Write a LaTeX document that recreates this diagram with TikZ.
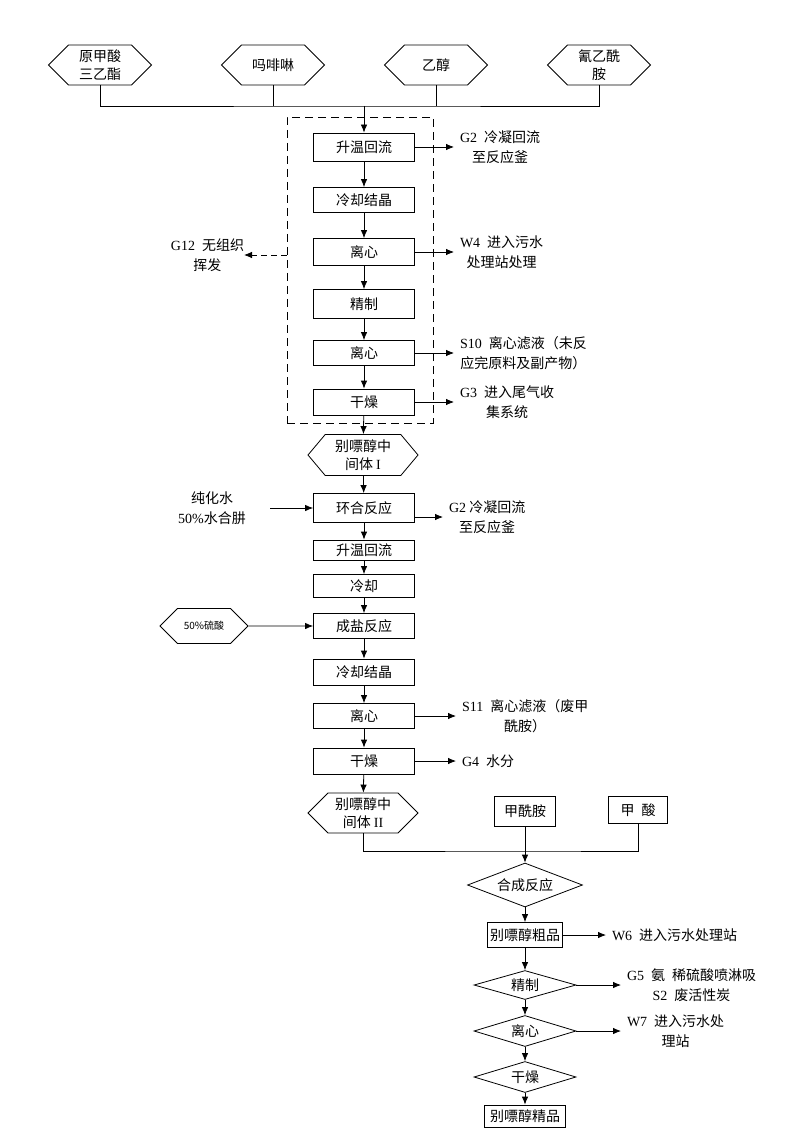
\documentclass[tikz,border=0pt]{standalone}
\usepackage{fontspec}
\setmainfont{Noto Sans CJK SC}
\newfontfamily\romfont{Liberation Serif}
\usetikzlibrary{shapes.geometric,shapes.symbols,arrows.meta}

\begin{document}
\begin{tikzpicture}
        [x=1pt,y=-1pt,line width=0.8pt,>={Latex[length=8pt,width=6.5pt]},
         every node/.style={font=\fontsize{14}{20}\selectfont,inner sep=0},
         box/.style={draw,rectangle,minimum width=101pt,minimum height=27pt},
         hexa/.style={draw,signal,signal to=east and west,signal pointer angle=90,align=center,
                      minimum width=103pt,minimum height=40pt,font=\fontsize{14}{18}\selectfont},
         dia/.style={draw,diamond,aspect=3,minimum width=102pt,minimum height=31pt},
         note/.style={align=center,anchor=west,outer sep=6pt}]

        \useasboundingbox (0,0) rectangle (800,1131);

        \node[hexa] (h1) at (100,65) {原甲酸\\三乙酯};
        \node[hexa] (h2) at (273,65) {吗啡啉};
        \node[hexa] (h3) at (436,65) {乙醇};
        \node[hexa] (h4) at (599,65) {氰乙酰\\胺};
        \coordinate (j1) at (364,106);

        \node[draw,dashed,dash pattern=on 8pt off 5pt,minimum width=146pt,minimum height=306pt] (frame) at (360,270) {};
        \node[box,minimum height=28pt] (a1) at (364,147) {升温回流};
        \node[box,minimum height=25pt] (a2) at (364,200) {冷却结晶};
        \node[box] (a3) at (364,252) {离心};
        \node[box,minimum height=29pt] (a4) at (364,304) {精制};
        \node[box,minimum height=25pt] (a5) at (364,353) {离心};
        \node[box,minimum height=26pt] (a6) at (364,402) {干燥};
        \node[note] (o1) at (454,147) {{\romfont G2}\enspace 冷凝回流\\至反应釜};
        \node[note] (o2) at (454,252) {{\romfont W4}\enspace 进入污水\\处理站处理};
        \node[note] (o3) at (454,353) {{\romfont S10}\enspace 离心滤液（未反\\应完原料及副产物）};
        \node[note] (o4) at (454,402) {{\romfont G3}\enspace 进入尾气收\\集系统};
        \node[note,anchor=east,outer sep=0] (o0) at (244,255) {{\romfont G12}\enspace 无组织\\挥发};

        \node[hexa,signal pointer angle=100,minimum width=110pt,minimum height=41pt] (m1) at (363,455) {别嘌醇中\\间体 {\romfont I}};
        \node[box,minimum height=29pt] (b1) at (364,508) {环合反应};
        \node[align=center] (w1) at (212,508) {纯化水\\{\romfont 50\%}水合肼};
        \coordinate (w1in) at (270,508);
        \node[note] (o5) at (443,517) {{\romfont G2}~冷凝回流\\至反应釜};
        \node[box,minimum height=20pt] (b2) at (364,550) {升温回流};
        \node[box,minimum height=23pt] (b3) at (364,586) {冷却};
        \node[box,minimum height=25pt] (b4) at (364,626) {成盐反应};
        \node[hexa,minimum width=88pt,minimum height=35pt,font=\fontsize{10}{12}\selectfont] (s1) at (204,626) {50\%硫酸};
        \node[box,minimum height=26pt] (b5) at (364,672) {冷却结晶};
        \node[box,minimum height=25pt] (b6) at (364,716) {离心};
        \node[box,minimum height=26pt] (b7) at (364,761) {干燥};
        \node[note] (o6) at (456,716) {{\romfont S11}\enspace 离心滤液（废甲\\酰胺）};
        \node[note] (o7) at (456,761) {{\romfont G4}\enspace 水分};

        \node[hexa,minimum width=110pt] (c1) at (363,813) {别嘌醇中\\间体 {\romfont II}};
        \node[box,minimum width=61pt,minimum height=30pt] (c2) at (525,811) {甲酰胺};
        \node[box,minimum width=59pt,minimum height=27pt] (c3) at (638,810) {甲\enspace 酸};
        \coordinate (j2) at (525,851);

        \node[dia,aspect=2.6,minimum width=115pt,minimum height=44pt] (d1) at (525,885) {合成反应};
        \node[box,minimum width=75pt,minimum height=25pt] (e1) at (525,935) {别嘌醇粗品};
        \node[note] (o8) at (606,935) {{\romfont W6}\enspace 进入污水处理站};
        \node[dia,aspect=3.5,minimum height=29pt] (d2) at (525,985) {精制};
        \node[note] (o9) at (621,985) {{\romfont G5}\enspace 氨\enspace 稀硫酸喷淋吸\\{\romfont S2}\enspace 废活性炭};
        \node[dia] (d3) at (525,1031) {离心};
        \node[note] (o10) at (621,1031) {{\romfont W7}\enspace 进入污水处\\理站};
        \node[dia] (d4) at (525,1077) {干燥};
        \node[box,minimum width=81pt,minimum height=22pt] (e2) at (525,1116) {别嘌醇精品};

        \draw (h1.south) |- (j1) -| (h4.south);
        \draw (h2.south) -- (h2.south |- j1);
        \draw (h3.south) -- (h3.south |- j1);
        \draw[->] (j1) -- (a1);
        \draw[->] (a1) -- (a2);
        \draw[->] (a2) -- (a3);
        \draw[->] (a3) -- (a4);
        \draw[->] (a4) -- (a5);
        \draw[->] (a5) -- (a6);
        \draw[->] (a6) -- (m1);
        \draw[->] (a1) -- (o1);
        \draw[->] (a3) -- (o2);
        \draw[->] (a5) -- (o3);
        \draw[->] (a6) -- (o4);
        \draw[->,dashed,dash pattern=on 6pt off 4pt] (frame.west |- o0) -- (o0);

        \draw[->] (m1) -- (b1);
        \draw[->] (w1in) -- (b1);
        \draw[->] (b1.east |- o5) -- (o5);
        \draw[->] (b1) -- (b2);
        \draw[->] (b2) -- (b3);
        \draw[->] (b3) -- (b4);
        \draw[->] (s1) -- (b4);
        \draw[->] (b4) -- (b5);
        \draw[->] (b5) -- (b6);
        \draw[->] (b6) -- (b7);
        \draw[->] (b6) -- (o6);
        \draw[->] (b7) -- (o7);
        \draw[->] (b7) -- (c1);

        \draw (c1.south) |- (j2) -| (c3.south);
        \draw (c2.south) -- (j2);
        \draw[->] (j2) -- (d1);
        \draw[->] (d1) -- (e1);
        \draw[->] (e1) -- (o8);
        \draw[->] (e1) -- (d2);
        \draw[->] (d2) -- (o9);
        \draw[->] (d2) -- (d3);
        \draw[->] (d3) -- (o10);
        \draw[->] (d3) -- (d4);
        \draw[->] (d4) -- (e2);

      \end{tikzpicture}
\end{document}
